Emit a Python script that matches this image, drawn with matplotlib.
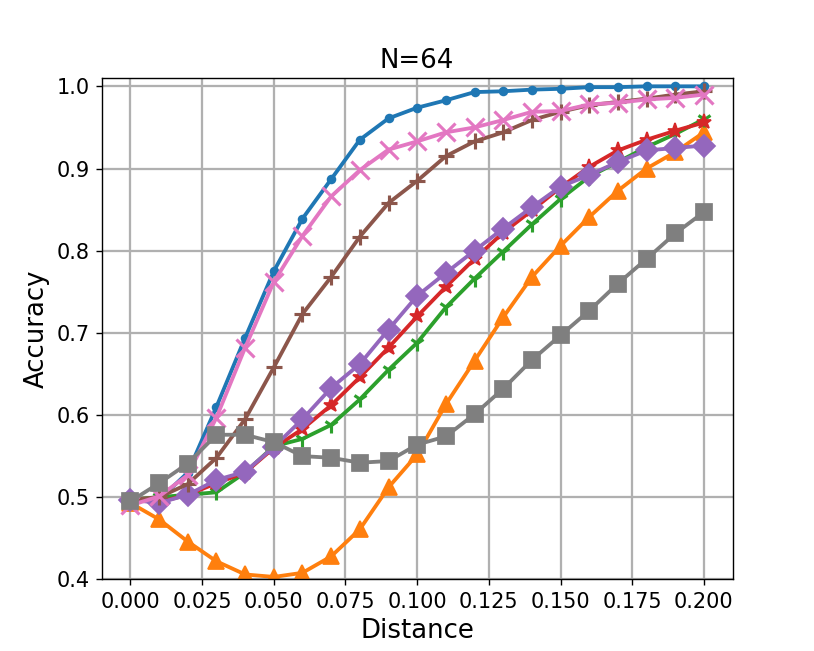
import numpy as np
import matplotlib
matplotlib.use("Agg")
import matplotlib.pyplot as plt

distance = [0.00, 0.01, 0.02, 0.03, 0.04, 0.05, 0.06, 0.07, 0.08, 0.09, 0.10,
            0.11, 0.12, 0.13, 0.14, 0.15, 0.16, 0.17, 0.18, 0.19, 0.20]

s_blue = [0.497, 0.497, 0.530, 0.610, 0.694, 0.775, 0.839, 0.887, 0.935, 0.961, 0.974,
          0.983, 0.993, 0.994, 0.996, 0.997, 0.999, 0.999, 1.000, 1.000, 1.000]
s_orange = [0.493, 0.473, 0.446, 0.422, 0.406, 0.403, 0.408, 0.428, 0.461, 0.512, 0.552,
            0.613, 0.666, 0.719, 0.768, 0.806, 0.841, 0.873, 0.900, 0.920, 0.944]
s_green = [0.497, 0.500, 0.503, 0.506, 0.530, 0.562, 0.571, 0.588, 0.619, 0.655, 0.688,
           0.731, 0.766, 0.799, 0.832, 0.863, 0.890, 0.908, 0.926, 0.942, 0.960]
s_red = [0.497, 0.494, 0.503, 0.517, 0.530, 0.560, 0.583, 0.612, 0.646, 0.682, 0.720,
         0.756, 0.790, 0.822, 0.849, 0.877, 0.902, 0.922, 0.935, 0.946, 0.956]
s_purple = [0.497, 0.493, 0.503, 0.521, 0.531, 0.561, 0.595, 0.633, 0.662, 0.704, 0.745,
            0.773, 0.800, 0.827, 0.853, 0.878, 0.892, 0.908, 0.922, 0.925, 0.928]
s_brown = [0.497, 0.500, 0.516, 0.548, 0.595, 0.658, 0.723, 0.768, 0.817, 0.858, 0.885,
           0.915, 0.933, 0.944, 0.959, 0.969, 0.977, 0.981, 0.985, 0.990, 0.994]
s_pink = [0.490, 0.501, 0.527, 0.597, 0.682, 0.762, 0.818, 0.866, 0.898, 0.923, 0.933,
          0.944, 0.950, 0.959, 0.969, 0.970, 0.978, 0.980, 0.984, 0.986, 0.990]
s_gray = [0.495, 0.517, 0.541, 0.576, 0.576, 0.567, 0.550, 0.548, 0.542, 0.544, 0.564,
          0.574, 0.601, 0.632, 0.667, 0.697, 0.727, 0.760, 0.790, 0.821, 0.847]

series = [s_blue, s_orange, s_green, s_red, s_purple, s_brown, s_pink, s_gray]
markers = ['.', '^', '1', '*', 'D', '+', 'x', 's']
colors = ['C0', 'C1', 'C2', 'C3', 'C4', 'C5', 'C6', 'C7']
msizes = [9, 9, 9, 9, 9, 9, 10, 9]

title = "N=64"
xlabel = "Distance"
ylabel = "Accuracy"

fig = plt.figure(figsize=(6.512, 5.208), dpi=125)
ax = fig.add_subplot(111)
for ys, m, c, ms in zip(series, markers, colors, msizes):
    mew = 1.8 if m in ('1', '+', 'x') else 1.0
    ax.plot(distance, ys, marker=m, color=c, markersize=ms, linewidth=2.2,
            markeredgewidth=mew)

ax.set_ylim(0.4, 1.01)
ax.set_xticks(np.arange(0, 0.2001, 0.025))
ax.set_yticks(np.arange(0.4, 1.0001, 0.1))
ax.grid(True, color='#b0b0b0', linewidth=1.3)
ax.tick_params(labelsize=12)
ax.set_title(title, fontsize=15)
ax.set_xlabel(xlabel, fontsize=15)
ax.set_ylabel(ylabel, fontsize=15)
fig.savefig("out.png", dpi=125)
